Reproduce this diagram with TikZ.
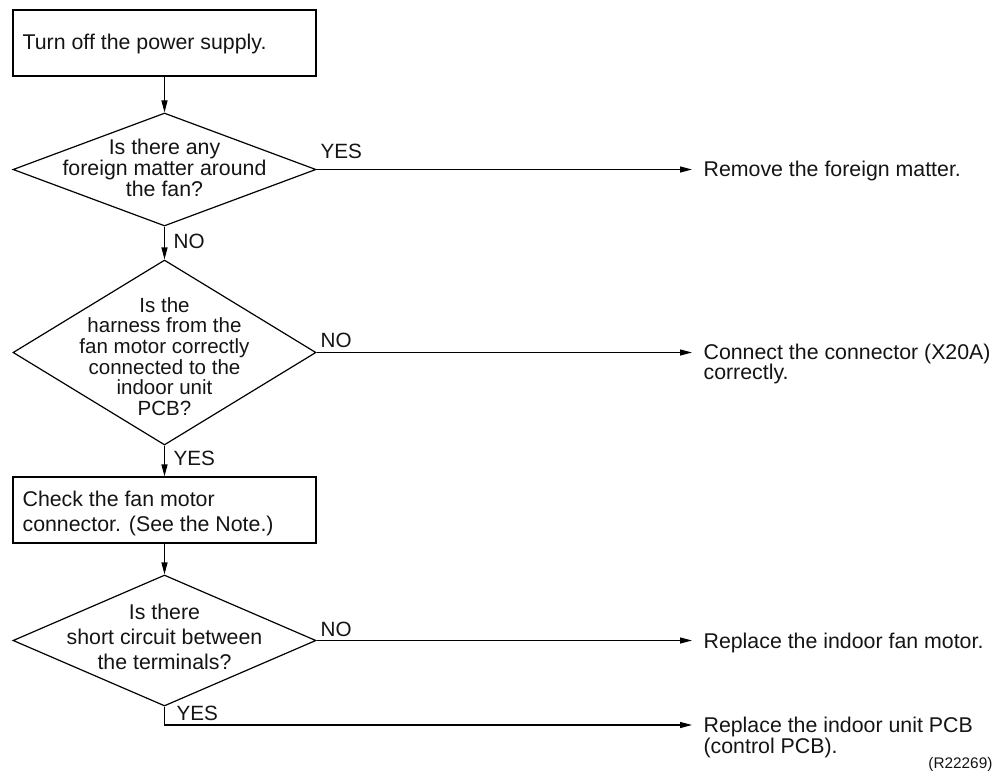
\documentclass[tikz,border=0pt]{standalone}
\usepackage{fontspec}
\setmainfont{Liberation Sans}
\usetikzlibrary{shapes.geometric,arrows.meta}
\def\pxl{0.75pt}
\newcommand\clines[1]{\vtop{\lineskiplimit=-\maxdimen\halign{\hfil##\hfil\cr#1\crcr}}}
\newcommand\llines[1]{\vtop{\lineskiplimit=-\maxdimen\halign{##\hfil\cr#1\crcr}}}
\begin{document}
\begin{tikzpicture}[x=0.75pt,y=-0.75pt,
  line width=0.9pt,
  every node/.style={font=\fontsize{16pt}{18pt}\selectfont, text=black!92},
  boxn/.style={draw, rectangle, inner sep=0pt, minimum width=303*\pxl, minimum height=66*\pxl},
  dia/.style={draw, diamond, inner sep=0pt, minimum width=303*\pxl},
  txt/.style={inner sep=0pt, anchor=base},
  ltxt/.style={inner sep=0pt, anchor=base west},
  lab/.style={inner sep=0pt, anchor=base west, font=\fontsize{15.5pt}{18pt}\selectfont},
  arr/.style={-{Triangle[length=9pt,width=4.5pt]}},
  toright/.style={arr, shorten >=11*\pxl}
]
\useasboundingbox (0,0) rectangle (998,770);

% boxes and diamonds
\node[boxn] (b1) at (164.5,43) {};
\node[ltxt] (b1t) at (22,50) {Turn off the power supply.};

\node[dia, minimum height=113*\pxl] (d1) at (164.5,169.5) {};
\node[txt, font=\fontsize{16pt}{15.75pt}\selectfont] (d1t) at (164.5,155)
  {\clines{Is there any\cr foreign matter around\cr the fan?}};

\node[dia, minimum height=185*\pxl] (d2) at (164.5,352.5) {};
\node[txt, font=\fontsize{15.4pt}{15.5pt}\selectfont] (d2t) at (164.5,312)
  {\clines{Is the\cr harness from the\cr fan motor correctly\cr connected to the\cr indoor unit\cr PCB?}};

\node[boxn] (b2) at (164.5,510) {};
\node[ltxt, font=\fontsize{16pt}{19pt}\selectfont] (b2t) at (22,506)
  {\llines{Check the fan motor\cr connector. (See the Note.)}};

\node[dia, minimum height=131*\pxl] (d3) at (164.5,640.5) {};
\node[txt, font=\fontsize{16pt}{18.75pt}\selectfont] (d3t) at (164.5,619)
  {\clines{Is there\cr short circuit between\cr the terminals?}};

% results
\node[ltxt] (r1) at (703,176) {Remove the foreign matter.};
\node[ltxt, font=\fontsize{16pt}{15pt}\selectfont] (r2) at (703,359)
  {\llines{Connect the connector (X20A)\cr correctly.}};
\node[ltxt] (r3) at (703,648) {Replace the indoor fan motor.};
\node[ltxt, font=\fontsize{16pt}{16pt}\selectfont] (r4) at (703,732.5)
  {\llines{Replace the indoor unit PCB\cr (control PCB).}};
\node[inner sep=0pt, anchor=base east, font=\fontsize{11.5pt}{12pt}\selectfont] (ref) at (993,768) {(R22269)};

% labels
\node[lab] (l1) at (320,158) {YES};
\node[lab] (l2) at (173,248) {NO};
\node[lab] (l3) at (320,347) {NO};
\node[lab] (l4) at (173,465) {YES};
\node[lab] (l5) at (320,636) {NO};
\node[lab] (l6) at (176,720.5) {YES};

% connectors
\coordinate (yc) at (164.5,725);
\draw[arr] (b1.south) -- (d1.north);
\draw[toright] (d1.east) -- (d1.east -| r1.west);
\draw[arr] (d1.south) -- (d2.north);
\draw[toright] (d2.east) -- (d2.east -| r2.west);
\draw[arr] (d2.south) -- (b2.north);
\draw[arr] (b2.south) -- (d3.north);
\draw[toright] (d3.east) -- (d3.east -| r3.west);
\draw[toright] (d3.south) -- (yc) -- (yc -| r4.west);
\end{tikzpicture}
\end{document}
